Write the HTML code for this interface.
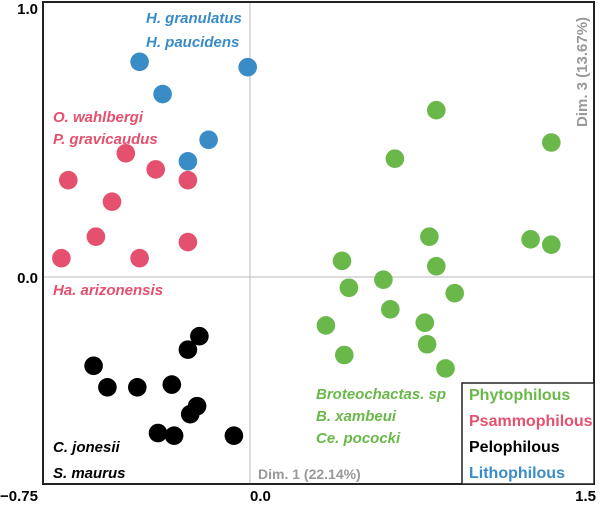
<!DOCTYPE html>
<html><head><meta charset="utf-8"><style>
body{margin:0;background:#fff}
svg{display:block;font-family:"Liberation Sans",sans-serif}
.lab{font-weight:bold;font-style:italic;font-size:15px}
.leg{font-weight:bold;font-size:16px}
.tick{font-weight:bold;font-size:15px}
</style></head><body>
<svg id="chart" width="600" height="506">
<line x1="250" y1="2" x2="250" y2="484" stroke="#c8c8c8" stroke-width="1.2"/>
<line x1="43" y1="277" x2="594" y2="277" stroke="#c8c8c8" stroke-width="1.2"/>
<g id="points"></g>
<rect x="43" y="2" width="551" height="482" fill="none" stroke="#222" stroke-width="2"/>
<text class="tick" x="38" y="14" text-anchor="end">1.0</text>
<text class="tick" x="38" y="283" text-anchor="end">0.0</text>
<text class="tick" x="0" y="501">−0.75</text>
<text class="tick" x="250" y="501">0.0</text>
<text class="tick" x="596" y="501" text-anchor="end">1.5</text>
<text x="258" y="479" font-size="14" font-weight="bold" fill="#999">Dim. 1 (22.14%)</text>
<text x="0" y="0" font-size="15" font-weight="bold" fill="#999" text-anchor="middle" transform="translate(587,72) rotate(-90)">Dim. 3 (13.67%)</text>
<g fill="#3a8cc6" class="lab"><text x="146" y="23">H. granulatus</text><text x="146" y="47">H. paucidens</text></g>
<g fill="#e4506e" class="lab"><text x="53" y="122">O. wahlbergi</text><text x="53" y="144">P. gravicaudus</text><text x="53" y="295">Ha. arizonensis</text></g>
<g fill="#000" class="lab"><text x="53" y="452">C. jonesii</text><text x="53" y="478">S. maurus</text></g>
<g fill="#6ab84a" class="lab"><text x="316" y="399">Broteochactas. sp</text><text x="316" y="421">B. xambeui</text><text x="316" y="443">Ce. pococki</text></g>
<rect x="462" y="383" width="132" height="101" fill="#fff" stroke="#222" stroke-width="1.5"/>
<g class="leg"><text x="469" y="400" fill="#6ab84a">Phytophilous</text><text x="469" y="426" fill="#e4506e">Psammophilous</text><text x="469" y="452" fill="#000">Pelophilous</text><text x="469" y="478" fill="#3a8cc6">Lithophilous</text></g>
</svg>
<script>
const blueX=[-0.48,-0.38,-0.01,-0.18,-0.27];
const blueY=[0.80,0.68,0.78,0.51,0.43];
const redX=[-0.54,-0.41,-0.27,-0.79,-0.60,-0.67,-0.48,-0.27,-0.82];
const redY=[0.46,0.40,0.36,0.36,0.28,0.15,0.07,0.13,0.07];
const blackX=[-0.22,-0.27,-0.68,-0.62,-0.49,-0.34,-0.23,-0.26,-0.40,-0.33,-0.07];
const blackY=[-0.22,-0.27,-0.33,-0.41,-0.41,-0.40,-0.48,-0.51,-0.58,-0.59,-0.59];
const greenX=[0.81,1.31,0.63,0.78,0.81,1.22,1.31,0.40,0.43,0.58,0.89,0.61,0.33,0.76,0.77,0.41,0.85];
const greenY=[0.62,0.50,0.44,0.15,0.04,0.14,0.12,0.06,-0.04,-0.01,-0.06,-0.12,-0.18,-0.17,-0.25,-0.29,-0.34];
function sx(v){return 250+v*230;}
function sy(v){return 277-v*269;}
const g=document.getElementById('points');
function draw(xs,ys,color,name){
  xs.forEach((x,i)=>{
    const c=document.createElementNS('http://www.w3.org/2000/svg','circle');
    c.setAttribute('cx',sx(x));c.setAttribute('cy',sy(ys[i]));c.setAttribute('r',9.3);c.setAttribute('fill',color);
    
    
    g.appendChild(c);
  });
}
draw(blueX,blueY,'#3a8cc6','lithophilous');
draw(redX,redY,'#e4506e','psammophilous');
draw(blackX,blackY,'#000','pelophilous');
draw(greenX,greenY,'#6ab84a','phytophilous');
</script>
</body></html>
